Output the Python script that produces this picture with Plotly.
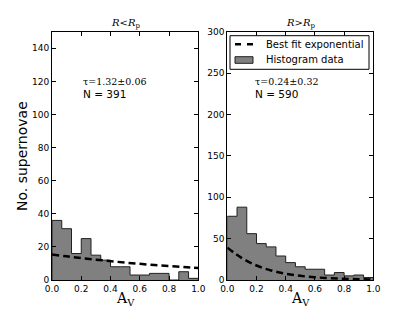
import plotly.graph_objects as go

# ---- data ----
bin_edges = [i / 15 for i in range(16)]
counts_inner = [36, 31, 16, 25, 15, 12, 8, 8, 3, 3, 4, 4, 0, 5, 1]
counts_outer = [77, 88, 56, 44, 40, 29, 21, 16, 13, 13, 6, 9, 5, 6, 3]
fit_x = [0.0, 0.1, 0.2, 0.3, 0.4, 0.5, 0.6, 0.7, 0.8, 0.9, 1.0]
fit_inner = [15.4, 14.3, 13.2, 12.3, 11.4, 10.5, 9.8, 9.0, 8.4, 7.8, 7.2]
fit_outer = [39.0, 26.5, 17.5, 11.5, 7.6, 5.0, 3.3, 2.2, 1.5, 1.0, 0.6]
panel_titles = ["<i>R</i>&lt;<i>R</i><sub>p</sub>", "<i>R</i>&gt;<i>R</i><sub>p</sub>"]
tau_labels = ["τ=1.32±0.06", "τ=0.24±0.32"]
n_labels = ["N = 391", "N = 590"]
legend_labels = ["Best fit exponential", "Histogram data"]
x_ticks = [0.0, 0.2, 0.4, 0.6, 0.8, 1.0]
y_ticks_inner = [0, 20, 40, 60, 80, 100, 120, 140]
y_ticks_outer = [0, 50, 100, 150, 200, 250, 300]

W, H = 415, 312
SANS = "DejaVu Sans"
SERIF = "DejaVu Serif"
GRAY = "#808080"
DASH = "7px,4px"


def step_path(edges, counts):
    xs, ys = [edges[0]], [0]
    for i, c in enumerate(counts):
        xs += [edges[i], edges[i + 1]]
        ys += [c, c]
    xs.append(edges[-1])
    ys.append(0)
    return xs, ys


def px(x):
    return x / W


def py(y):
    return 1 - y / H


fig = go.Figure()
for k, (counts, fit, xa, ya) in enumerate(
    [(counts_inner, fit_inner, "x", "y"), (counts_outer, fit_outer, "x2", "y2")]
):
    hx, hy = step_path(bin_edges, counts)
    fig.add_trace(go.Scatter(
        x=hx, y=hy, mode="lines", fill="toself", fillcolor=GRAY,
        line=dict(color="#202020", width=1), name=legend_labels[1],
        showlegend=False, xaxis=xa, yaxis=ya, hoverinfo="skip"))
    fig.add_trace(go.Scatter(
        x=fit_x, y=fit, mode="lines",
        line=dict(color="black", width=2.5, dash=DASH, shape="spline"),
        name=legend_labels[0], showlegend=False,
        xaxis=xa, yaxis=ya, hoverinfo="skip"))

ydom = [py(280), py(31.7)]
common_x = dict(range=[0, 1], tickvals=x_ticks, ticktext=[f"{v:.1f}" for v in x_ticks],
                ticks="inside", ticklen=4, tickcolor="black", showline=True, linecolor="black",
                linewidth=1, mirror="ticks", showgrid=False, zeroline=False, automargin=False,
                tickfont=dict(family=SANS, size=9, color="black"))
common_y = dict(ticks="inside", ticklen=4, tickcolor="black", showline=True, linecolor="black",
                linewidth=1, mirror="ticks", showgrid=False, zeroline=False, automargin=False,
                tickfont=dict(family=SANS, size=9, color="black"), domain=ydom)

fig.update_layout(
    width=W, height=H, margin=dict(l=0, r=0, t=0, b=0, autoexpand=False),
    paper_bgcolor="white", plot_bgcolor="white",
    xaxis=dict(domain=[px(52), px(198.3)], anchor="y", **common_x),
    xaxis2=dict(domain=[px(227.3), px(373.3)], anchor="y2", **common_x),
    yaxis=dict(range=[0, 150], tickvals=y_ticks_inner, anchor="x", **common_y),
    yaxis2=dict(range=[0, 300], tickvals=y_ticks_outer, anchor="x2", **common_y),
    showlegend=False,
)

ann = []
centers = [px((52 + 198.3) / 2), px((227.3 + 373.3) / 2)]
lefts = [px(81), px(253)]
for k in range(2):
    ann.append(dict(text=panel_titles[k], x=centers[k], y=py(24), xref="paper", yref="paper",
                    xanchor="center", yanchor="middle", showarrow=False,
                    font=dict(family=SERIF, size=10, color="black")))
    ann.append(dict(text="A<sub>V</sub>", x=centers[k], y=py(299), xref="paper", yref="paper",
                    xanchor="center", yanchor="middle", showarrow=False,
                    font=dict(family=SERIF, size=14, color="black")))
    ann.append(dict(text=tau_labels[k], x=lefts[k], y=py(82), xref="paper", yref="paper",
                    xanchor="left", yanchor="middle", showarrow=False,
                    font=dict(family=SERIF, size=9.5, color="black")))
    ann.append(dict(text=n_labels[k], x=lefts[k], y=py(94), xref="paper", yref="paper",
                    xanchor="left", yanchor="middle", showarrow=False,
                    font=dict(family=SANS, size=10.5, color="black")))
ann.append(dict(text="No. supernovae", x=px(22), y=py(156), xref="paper", yref="paper",
                xanchor="center", yanchor="middle", textangle=-90, showarrow=False,
                font=dict(family=SANS, size=14, color="black")))

# legend box (drawn in the right panel's top-left corner)
for lab, yc in zip(legend_labels, [44.3, 60.0]):
    ann.append(dict(text=lab, x=px(264), y=py(yc), xref="paper", yref="paper",
                    xanchor="left", yanchor="middle", showarrow=False,
                    font=dict(family=SANS, size=10, color="black")))
fig.update_layout(annotations=ann)

shapes = [
    dict(type="rect", xref="paper", yref="paper", x0=px(230), x1=px(369), y0=py(69.3), y1=py(35.7),
         line=dict(color="black", width=1), fillcolor="white", layer="above"),
    dict(type="line", xref="paper", yref="paper", x0=px(235), x1=px(253), y0=py(44.3), y1=py(44.3),
         line=dict(color="black", width=2.5, dash="6px,6px"), layer="above"),
    dict(type="rect", xref="paper", yref="paper", x0=px(235), x1=px(253), y0=py(63.3), y1=py(56.7),
         line=dict(color="#202020", width=1), fillcolor=GRAY, layer="above"),
]
fig.update_layout(shapes=shapes)

fig.write_html("out.html", config={"displayModeBar": False},
               post_script="document.body.style.margin='0';")
